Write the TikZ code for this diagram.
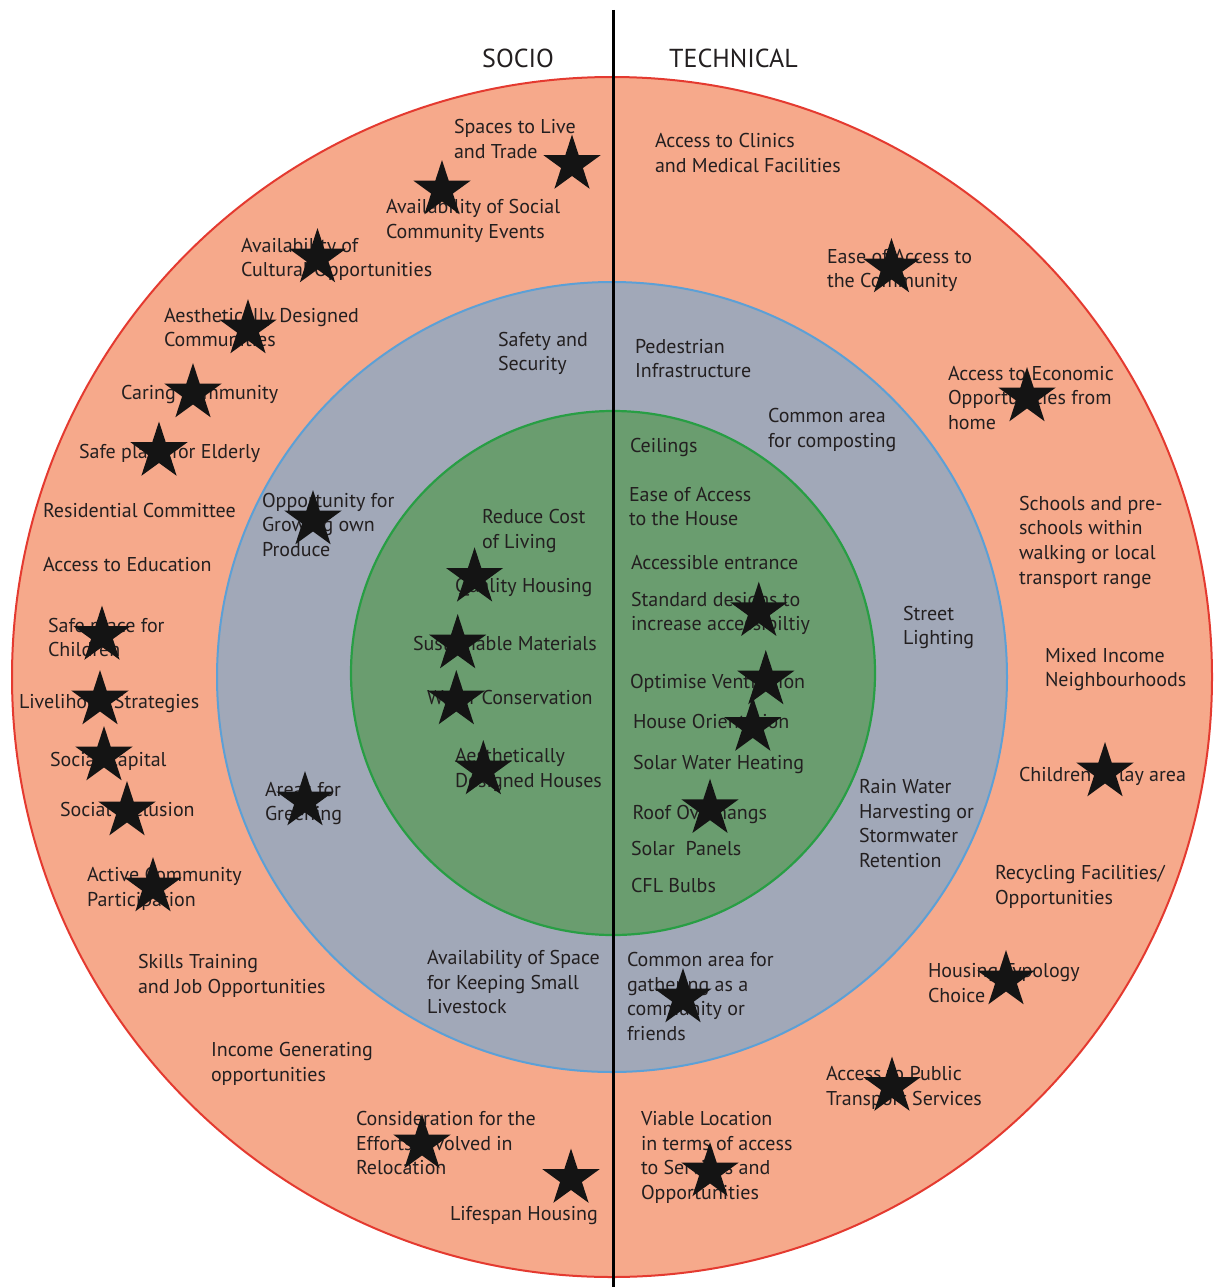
\documentclass[tikz,border=0pt]{standalone}
\usepackage{fontspec}
\setmainfont{PT Sans}
\usetikzlibrary{shapes.geometric}

\definecolor{ringouter}{RGB}{246,169,139}
\definecolor{ringouterline}{RGB}{228,58,48}
\definecolor{ringmid}{RGB}{161,168,184}
\definecolor{ringmidline}{RGB}{92,160,214}
\definecolor{ringinner}{RGB}{106,157,111}
\definecolor{ringinnerline}{RGB}{40,158,68}
\definecolor{ink}{RGB}{35,31,32}
\definecolor{starink}{RGB}{20,20,20}

\newcommand\lblfont{\fontsize{20}{24.7}\selectfont}
\newcommand\headfont{\fontsize{26}{30}\selectfont}

\begin{document}
\begin{tikzpicture}[x=1pt,y=-1pt,
  lbl/.style={anchor=north west, align=left, inner sep=0pt, outer sep=0pt,
              text=ink, font=\lblfont, yshift=-1pt},
  head/.style={anchor=base west, inner sep=0pt, text=ink, font=\headfont},
  starmark/.style={star, star points=5, star point ratio=2.618,
              minimum size=60pt, inner sep=0pt, fill=starink, draw=none}]

\useasboundingbox (0,0) rectangle (1214,1287);

% three rings
\filldraw[fill=ringouter, draw=ringouterline, line width=2pt] (612,677) circle (600pt);
\filldraw[fill=ringmid, draw=ringmidline, line width=2pt] (612,677) circle (395pt);
\filldraw[fill=ringinner, draw=ringinnerline, line width=2.2pt] (613,673) circle (262pt);

% dividing line
\coordinate (top) at (613,10);
\coordinate (bottom) at (613,1287);
\draw[line width=3pt, black] (top) -- (bottom);

% headings
\node[head] (socio) at (482,67.7) {SOCIO};
\node[head] (tech) at (669,67.7) {TECHNICAL};

% ---- outer ring, socio side
\node[lbl] (o1) at (454,115.5) {\strut Spaces to Live\\and Trade};
\node[lbl] (o2) at (386,195.5) {\strut Availability of Social\\Community Events};
\node[lbl] (o3) at (241,234) {\strut Availability of\\Cultural Opportunities};
\node[lbl] (o4) at (164,304) {\strut Aesthetically Designed\\Communities};
\node[lbl] (o5) at (121,381) {\strut Caring Community};
\node[lbl] (o6) at (79,440) {\strut Safe place for Elderly};
\node[lbl] (o7) at (43,499) {\strut Residential Committee};
\node[lbl] (o8) at (43,553) {\strut Access to Education};
\node[lbl] (o9) at (48,614) {\strut Safe place for\\Children};
\node[lbl] (o10) at (19,690.5) {\strut Livelihood Strategies};
\node[lbl] (o11) at (50,748) {\strut Social Capital};
\node[lbl] (o12) at (60,798) {\strut Social Inclusion};
\node[lbl] (o13) at (87,863) {\strut Active Community\\Participation};
\node[lbl] (o14) at (138,950) {\strut Skills Training\\and Job Opportunities};
\node[lbl] (o15) at (211,1038) {\strut Income Generating\\opportunities};
\node[lbl] (o16) at (356,1107) {\strut Consideration for the\\Efforts Involved in\\Relocation};
\node[lbl] (o17) at (450,1202) {\strut Lifespan Housing};

% ---- outer ring, technical side
\node[lbl] (t1) at (655,129.5) {\strut Access to Clinics\\and Medical Facilities};
\node[lbl] (t2) at (827,245) {\strut Ease of Access to\\the Community};
\node[lbl] (t3) at (948,362) {\strut Access to Economic\\Opportunities from\\home};
\node[lbl] (t4) at (1019,492) {\strut Schools and pre-\\schools within\\walking or local\\transport range};
\node[lbl] (t5) at (1045,644) {\strut Mixed Income\\Neighbourhoods};
\node[lbl] (t6) at (1019,763) {\strut Children's Play area};
\node[lbl] (t7) at (995,861) {\strut Recycling Facilities/\\Opportunities};
\node[lbl] (t8) at (928,959) {\strut Housing Typology\\Choice};
\node[lbl] (t9) at (826,1062) {\strut Access to Public\\Transport Services};
\node[lbl] (t10) at (641,1107) {\strut Viable Location\\in terms of access\\to Services and\\Opportunities};

% ---- middle ring
\node[lbl] (m1) at (498,328) {\strut Safety and\\Security};
\node[lbl] (m2) at (262,489) {\strut Opportunity for\\Growing own\\Produce};
\node[lbl] (m3) at (265,778) {\strut Areas for\\Greening};
\node[lbl] (m4) at (427,946) {\strut Availability of Space\\for Keeping Small\\Livestock};
\node[lbl] (m5) at (635,335) {\strut Pedestrian\\Infrastructure};
\node[lbl] (m6) at (768,404.5) {\strut Common area\\for composting};
\node[lbl] (m7) at (903,602) {\strut Street\\Lighting};
\node[lbl] (m8) at (859,775) {\strut Rain Water\\Harvesting or\\Stormwater\\Retention};
\node[lbl] (m9) at (627,948) {\strut Common area for\\gathering as a\\community or\\friends};

% ---- inner circle
\node[lbl] (i1) at (482,505.5) {\strut Reduce Cost\\of Living};
\node[lbl] (i2) at (455,574) {\strut Quality Housing};
\node[lbl] (i3) at (413,632) {\strut Sustainable Materials};
\node[lbl] (i4) at (427,686) {\strut Water Conservation};
\node[lbl] (i5) at (455,744.5) {\strut Aesthetically\\Designed Houses};
\node[lbl] (i6) at (630,434.5) {\strut Ceilings};
\node[lbl] (i7) at (629,483) {\strut Ease of Access\\to the House};
\node[lbl] (i8) at (631,551.5) {\strut Accessible entrance};
\node[lbl] (i9) at (631,588) {\strut Standard designs to\\increase accessibiltiy};
\node[lbl] (i10) at (630,670.5) {\strut Optimise Ventilation};
\node[lbl] (i11) at (633,710) {\strut House Orientation};
\node[lbl] (i12) at (633,751.5) {\strut Solar Water Heating};
\node[lbl] (i13) at (632.5,801) {\strut Roof Overhangs};
\node[lbl] (i14) at (631,837) {\strut Solar\ \ Panels};
\node[lbl] (i15) at (631,874) {\strut CFL Bulbs};

% ---- stars
\node[starmark] (s1) at (572,164.5) {};
\node[starmark] (s2) at (442,190) {};
\node[starmark] (s3) at (317.5,258) {};
\node[starmark] (s4) at (248,329) {};
\node[starmark] (s5) at (193,393) {};
\node[starmark] (s6) at (159,451.5) {};
\node[starmark] (s7) at (102,635.5) {};
\node[starmark] (s8) at (100,700) {};
\node[starmark] (s9) at (104,756) {};
\node[starmark] (s10) at (127,811) {};
\node[starmark] (s11) at (153,887) {};
\node[starmark] (s12) at (422,1144) {};
\node[starmark] (s13) at (571,1178.5) {};
\node[starmark] (s14) at (891.5,268) {};
\node[starmark] (s15) at (1027,397) {};
\node[starmark] (s16) at (1105,772) {};
\node[starmark] (s17) at (1006,980) {};
\node[starmark] (s18) at (892,1086.5) {};
\node[starmark] (s19) at (710,1172) {};
\node[starmark] (s20) at (313,520) {};
\node[starmark] (s21) at (305,801) {};
\node[starmark] (s22) at (683,998) {};
\node[starmark] (s23) at (474.6,577.3) {};
\node[starmark] (s24) at (457.7,644) {};
\node[starmark] (s25) at (456.3,700) {};
\node[starmark] (s26) at (483.3,770) {};
\node[starmark] (s27) at (758.8,611.7) {};
\node[starmark] (s28) at (765.8,680) {};
\node[starmark] (s29) at (752.8,726.5) {};
\node[starmark] (s30) at (710,808.7) {};

\end{tikzpicture}
\end{document}
